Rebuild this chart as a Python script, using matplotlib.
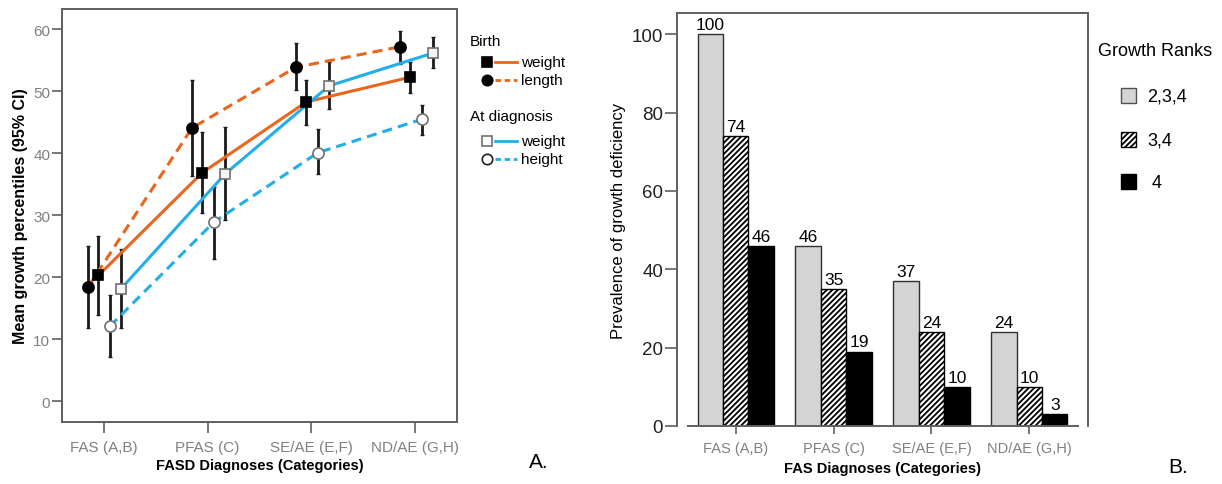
import numpy as np
import matplotlib
matplotlib.use('Agg')
import matplotlib.pyplot as plt
from matplotlib.lines import Line2D
from matplotlib.patches import Rectangle

plt.rcParams['font.family'] = ['Liberation Sans', 'DejaVu Sans']
plt.rcParams['hatch.linewidth'] = 1.3

# panel A data
cats_a = ['FAS (A,B)', 'PFAS (C)', 'SE/AE (E,F)', 'ND/AE (G,H)']
birth_length = [18.4, 44.1, 53.9, 57.2]
birth_length_lo = [11.8, 36.3, 50.2, 54.5]
birth_length_hi = [25.1, 51.9, 57.8, 59.7]
birth_weight = [20.3, 36.9, 48.3, 52.3]
birth_weight_lo = [13.9, 30.4, 44.6, 49.8]
birth_weight_hi = [26.6, 43.5, 51.9, 54.8]
diag_height = [12.1, 28.9, 40.1, 45.5]
diag_height_lo = [7.1, 22.9, 36.7, 43.0]
diag_height_hi = [17.1, 34.6, 44.0, 47.8]
diag_weight = [18.2, 36.7, 50.9, 56.2]
diag_weight_lo = [11.9, 29.3, 47.2, 53.7]
diag_weight_hi = [24.5, 44.2, 54.7, 58.8]

# panel B data
cats_b = ['FAS (A,B)', 'PFAS (C)', 'SE/AE (E,F)', 'ND/AE (G,H)']
rank_labels = ['2,3,4', '3,4', '4']
rank_234 = [100, 46, 37, 24]
rank_34 = [74, 35, 24, 10]
rank_4 = [46, 19, 10, 3]

W, H = 1222, 485
ORANGE = '#E8661E'
BLUE = '#22AEE8'
GRAY = '#808080'
SPINE = '#606060'

fig = plt.figure(figsize=(W / 100, H / 100), dpi=100)

def fx(x):
    return x / W

def fy(y):
    return 1 - y / H

# ---------- panel A ----------
axA = fig.add_axes([fx(62), fy(423), fx(457) - fx(62), fy(10) - fy(423)])
xa = np.arange(len(cats_a))

series = [
    (birth_length, birth_length_lo, birth_length_hi, -0.15, ORANGE, '--', 'o', 'black', 'black', 8),
    (birth_weight, birth_weight_lo, birth_weight_hi, -0.05, ORANGE, '-', 's', 'black', 'black', 7.5),
    (diag_height, diag_height_lo, diag_height_hi, 0.06, BLUE, '--', 'o', 'white', '#707070', 8),
    (diag_weight, diag_weight_lo, diag_weight_hi, 0.17, BLUE, '-', 's', '#f4f4f4', '#707070', 7.5),
]
for vals, lo, hi, off, col, ls, mk, fc, ec, ms in series:
    v = np.array(vals)
    x = xa + off
    err = [v - np.array(lo), np.array(hi) - v]
    axA.errorbar(x, v, yerr=err, fmt='none', ecolor='#1a1a1a', elinewidth=2, capsize=1.5, zorder=2)
    ln, = axA.plot(x, v, color=col, lw=2.2, ls=ls, zorder=3)
    if ls == '--':
        ln.set_dashes((3.3, 2))
    axA.plot(x, v, ls='none', marker=mk, ms=ms, mfc=fc, mec=ec, mew=1.2, zorder=4)

axA.set_xlim(-0.4, 3.4)
axA.set_ylim(-3.34, 63.3)
axA.set_yticks([0, 10, 20, 30, 40, 50, 60])
axA.set_xticks(xa)
axA.set_xticklabels(cats_a)
axA.tick_params(axis='y', length=7, width=1.2, color=SPINE, labelcolor=GRAY, labelsize=11, pad=1.5)
axA.tick_params(axis='x', length=8, width=1.2, color=SPINE, labelcolor=GRAY, labelsize=11, pad=5)
for s in axA.spines.values():
    s.set_color(SPINE)
    s.set_linewidth(1.4)
axA.set_ylabel('Mean growth percentiles (95% CI)', fontsize=11.5, fontweight='bold', labelpad=4)
axA.set_xlabel('FASD Diagnoses (Categories)', fontsize=10.5, fontweight='bold', labelpad=3)

# legend for panel A
fig.text(fx(470), fy(42), 'Birth', fontsize=11, va='center', ha='left')
fig.text(fx(470), fy(117), 'At diagnosis', fontsize=11, va='center', ha='left')
leg_rows = [
    (63, 's', 'black', 'black', ORANGE, '-', 'weight'),
    (81, 'o', 'black', 'black', ORANGE, '--', 'length'),
    (142, 's', 'white', '#707070', BLUE, '-', 'weight'),
    (160, 'o', 'white', '#202020', BLUE, '--', 'height'),
]
for y, mk, fc, ec, col, ls, lab in leg_rows:
    fig.add_artist(Line2D([fx(487)], [fy(y)], marker=mk, ms=7.5, mfc=fc, mec=ec, mew=1.2, ls='none'))
    l = Line2D([fx(495), fx(517)], [fy(y), fy(y)], color=col, lw=2)
    if ls == '--':
        l.set_dashes((2, 1.3))
    fig.add_artist(l)
    fig.text(fx(521), fy(y), lab, fontsize=11, va='center', ha='left')

fig.text(fx(529), fy(463), 'A.', fontsize=15, va='center', ha='left')

# ---------- panel B ----------
axB = fig.add_axes([fx(677), fy(427), fx(1088) - fx(677), fy(14) - fy(427)])
xb = np.arange(len(cats_b))
bw = 0.26
b1 = axB.bar(xb - bw, rank_234, bw, color='#d4d4d4', edgecolor='#303030', lw=1.0, label=rank_labels[0])
b2 = axB.bar(xb, rank_34, bw, color='white', edgecolor='black', hatch='//////', lw=1.0, label=rank_labels[1])
b3 = axB.bar(xb + bw, rank_4, bw, color='black', edgecolor='black', lw=1.0, label=rank_labels[2])
for bars in (b1, b2, b3):
    axB.bar_label(bars, labels=[str(v) for v in bars.datavalues], padding=1.5, fontsize=12.5)

axB.set_xlim(-0.6, 3.6)
axB.set_ylim(0, 105.4)
axB.set_yticks([0, 20, 40, 60, 80, 100])
axB.set_xticks(xb)
axB.set_xticklabels(cats_b)
axB.tick_params(axis='y', length=9, width=1.2, color=SPINE, labelcolor='#222222', labelsize=13.5, pad=1)
axB.tick_params(axis='x', length=6, width=1.2, color=SPINE, labelcolor=GRAY, labelsize=10.5, pad=5)
for s in axB.spines.values():
    s.set_color(SPINE)
    s.set_linewidth(1.4)
axB.spines['bottom'].set_bounds(-0.49, 3.5)
axB.set_ylabel('Prevalence of growth deficiency', fontsize=12, labelpad=4)
axB.set_xlabel('FAS Diagnoses (Categories)', fontsize=10.5, fontweight='bold', labelpad=4)

# legend for panel B
fig.text(fx(1098), fy(52), 'Growth Ranks', fontsize=13, va='center', ha='left')
leg_b = [(97, '#d4d4d4', None, '#505050'), (141, 'white', '//////', 'black'), (183, 'black', None, 'black')]
for (y, fc, hatch, ec), lab in zip(leg_b, rank_labels):
    fig.add_artist(Rectangle((fx(1121), fy(y + 7)), fx(15), 15 / H, facecolor=fc, edgecolor=ec,
                             hatch=hatch, lw=1.0, transform=fig.transFigure))
    fig.text(fx(1147), fy(y), lab if lab != '4' else ' 4', fontsize=13, va='center', ha='left')

fig.text(fx(1168), fy(468), 'B.', fontsize=15, va='center', ha='left')

fig.savefig('out.png', dpi=100)
